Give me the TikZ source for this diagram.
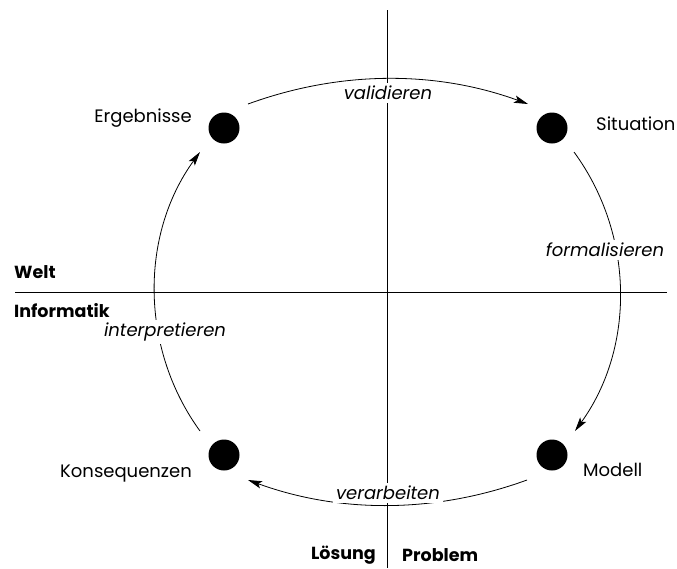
\documentclass[tikz,border=0pt]{standalone}
\usepackage{fontspec}
\setmainfont{Poppins}
\usetikzlibrary{arrows.meta}
\begin{document}
\begin{tikzpicture}[x=1pt,y=-1pt,
  every node/.style={font=\fontsize{18}{21}\selectfont, inner sep=2pt},
  axis/.style={line width=0.8pt},
  flow/.style={line width=0.8pt, -{Stealth[length=14pt,width=7.5pt,inset=3pt]}},
  dot/.style={circle, fill=black, minimum size=31pt, inner sep=0pt},
  verb/.style={fill=white, font=\fontsize{18}{21}\selectfont\itshape, inner sep=3pt},
  region/.style={font=\fontsize{17.5}{20}\selectfont\bfseries},
  state/.style={font=\fontsize{18}{21}\selectfont}]
\useasboundingbox (0,0) rectangle (677,568);
% axes
\coordinate (hl) at (15,292);
\coordinate (hr) at (667,292);
\coordinate (vt) at (387,10);
\coordinate (vb) at (387,568);
\draw[axis] (hl) -- (hr);
\draw[axis] (vt) -- (vb);
% dots
\node[dot] (E) at (224,128) {};
\node[dot] (S) at (552,128) {};
\node[dot] (M) at (552,455) {};
\node[dot] (K) at (224,455) {};
% arc ends
\coordinate (a1) at (248,104);
\coordinate (a2) at (528,104);
\coordinate (b1) at (574,152);
\coordinate (b2) at (575,431);
\coordinate (c1) at (527,480);
\coordinate (c2) at (248,480);
\coordinate (d1) at (200,431);
\coordinate (d2) at (200,152);
\draw[flow] (a1) to[bend left=20, looseness=0.9] (a2);
\draw[flow] (b1) to[bend left=36, looseness=0.94] (b2);
\draw[flow] (c1) to[bend left=20, looseness=0.9] (c2);
\draw[flow] (d1) to[bend left=36, looseness=0.94] (d2);
% labels
\node[verb] (val) at (388,93) {validieren};
\node[verb] (form) at (605,250) {formalisieren};
\node[verb] (verb) at (388,493) {verarbeiten};
\node[verb] (interp) at (165,332) {interpretieren};
\node[state, anchor=east] (lE) at (194,118) {Ergebnisse};
\node[state, anchor=west] (lS) at (594,124) {Situation};
\node[state, anchor=west] (lM) at (581,470) {Modell};
\node[state, anchor=east] (lK) at (194,474) {Konsequenzen};
\node[region, anchor=west] (welt) at (12,272) {Welt};
\node[region, anchor=west] (inf) at (12,311) {Informatik};
\node[region, anchor=east] (loes) at (378,555) {Lösung};
\node[region, anchor=west] (prob) at (400,555) {Problem};
\end{tikzpicture}
\end{document}
